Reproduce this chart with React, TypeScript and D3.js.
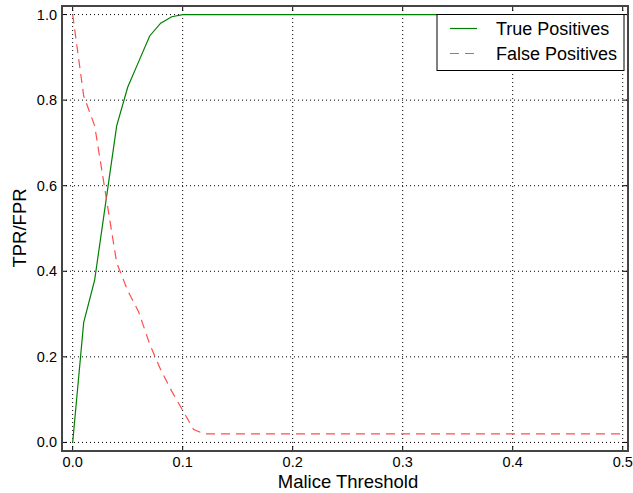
import React, { useEffect, useRef } from "react"
import * as d3 from "d3"

const thresholds = [0, 0.01, 0.02, 0.03, 0.04, 0.05, 0.06, 0.07, 0.08, 0.09, 0.1, 0.11, 0.12, 0.5]
const truePositives = [0, 0.28, 0.38, 0.56, 0.74, 0.83, 0.89, 0.95, 0.98, 0.995, 1.0, 1.0, 1.0, 1.0]
const falsePositives = [1.0, 0.81, 0.74, 0.58, 0.42, 0.355, 0.305, 0.23, 0.17, 0.12, 0.075, 0.03, 0.02, 0.02]
const xTicks = [0, 0.1, 0.2, 0.3, 0.4, 0.5]
const yTicks = [0, 0.2, 0.4, 0.6, 0.8, 1.0]

const W = 633
const H = 493
const FONT = "'Liberation Sans', Arial, sans-serif"

const drawChart = (wrapper: SVGSVGElement) => {
  const svg = d3.select(wrapper)
  svg.selectAll("*").remove()

  const left = 62, right = 628, top = 6, bottom = 451
  const x = d3.scaleLinear().domain([-0.0097, 0.5048]).range([left, right])
  const y = d3.scaleLinear().domain([-0.02, 1.02]).range([bottom, top])

  const g = svg.append("g")

  // dotted grid
  g.selectAll(".gx")
    .data(xTicks)
    .enter()
    .append("line")
    .attr("x1", d => x(d)).attr("x2", d => x(d))
    .attr("y1", top).attr("y2", bottom)
    .attr("stroke", "#000").attr("stroke-width", 1)
    .attr("stroke-dasharray", "1,3")
  g.selectAll(".gy")
    .data(yTicks)
    .enter()
    .append("line")
    .attr("x1", left).attr("x2", right)
    .attr("y1", d => y(d)).attr("y2", d => y(d))
    .attr("stroke", "#000").attr("stroke-width", 1)
    .attr("stroke-dasharray", "1,3")

  const pts = (vals: number[]) => thresholds.map((t, i) => [t, vals[i]] as [number, number])
  const line = d3.line<[number, number]>().x(d => x(d[0])).y(d => y(d[1]))

  g.append("path")
    .attr("d", line(pts(truePositives)))
    .attr("fill", "none").attr("stroke", "#008000").attr("stroke-width", 1.2)
  g.append("path")
    .attr("d", line(pts(falsePositives)))
    .attr("fill", "none").attr("stroke", "#ff4d4d").attr("stroke-width", 1.2)
    .attr("stroke-dasharray", "9,6")

  // ticks, inward on all four sides
  xTicks.forEach(t => {
    g.append("line").attr("x1", x(t)).attr("x2", x(t)).attr("y1", bottom).attr("y2", bottom - 5)
      .attr("stroke", "#000")
    g.append("line").attr("x1", x(t)).attr("x2", x(t)).attr("y1", top).attr("y2", top + 5)
      .attr("stroke", "#000")
    g.append("text").text(d3.format(".1f")(t))
      .attr("x", x(t)).attr("y", bottom + 16)
      .attr("text-anchor", "middle").style("font-family", FONT).style("font-size", "14.5px")
  })
  yTicks.forEach(t => {
    g.append("line").attr("x1", left).attr("x2", left + 5).attr("y1", y(t)).attr("y2", y(t))
      .attr("stroke", "#000")
    g.append("line").attr("x1", right).attr("x2", right - 5).attr("y1", y(t)).attr("y2", y(t))
      .attr("stroke", "#000")
    g.append("text").text(d3.format(".1f")(t))
      .attr("x", left - 5).attr("y", y(t) + 5)
      .attr("text-anchor", "end").style("font-family", FONT).style("font-size", "14.5px")
  })

  // frame
  g.append("rect")
    .attr("x", left).attr("y", top).attr("width", right - left).attr("height", bottom - top)
    .attr("fill", "none").attr("stroke", "#444").attr("stroke-width", 2)

  // axis labels
  g.append("text").text("Malice Threshold")
    .attr("x", (left + right) / 2 + 3).attr("y", 488)
    .attr("text-anchor", "middle").style("font-family", FONT).style("font-size", "18.5px")
  g.append("text").text("TPR/FPR")
    .attr("transform", `translate(26,228) rotate(-90)`)
    .attr("text-anchor", "middle").style("font-family", FONT).style("font-size", "18.5px")

  // legend
  const lg = g.append("g")
  lg.append("rect").attr("x", 437).attr("y", 14.5).attr("width", 187).attr("height", 56)
    .attr("fill", "#fff").attr("stroke", "#000").attr("stroke-width", 1)
  lg.append("line").attr("x1", 450).attr("x2", 477).attr("y1", 28.5).attr("y2", 28.5)
    .attr("stroke", "#008000").attr("stroke-width", 1.2)
  lg.append("line").attr("x1", 450).attr("x2", 477).attr("y1", 53.5).attr("y2", 53.5)
    .attr("stroke", "#ff4d4d").attr("stroke-width", 1.2).attr("stroke-dasharray", "9,6")
  lg.append("text").text("True Positives").attr("x", 496).attr("y", 35)
    .style("font-family", FONT).style("font-size", "18px")
  lg.append("text").text("False Positives").attr("x", 496).attr("y", 60)
    .style("font-family", FONT).style("font-size", "18px")
}

export default function App() {
  const ref = useRef<SVGSVGElement>(null)
  useEffect(() => {
    if (ref.current) drawChart(ref.current)
  }, [])
  return (
    <svg ref={ref} width={W} height={H}
      style={{ position: "absolute", left: 0, top: 0, background: "#fff" }} />
  )
}
